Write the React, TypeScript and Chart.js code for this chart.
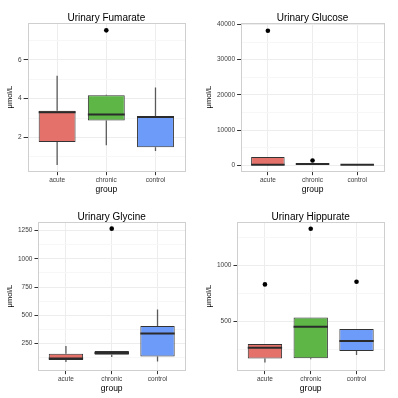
import React, { useEffect, useRef } from "react";
import { Chart, registerables } from "chart.js";

Chart.register(...registerables);

const groups = ["acute", "chronic", "control"];
const groupColors = ["#E5716B", "#5DB646", "#6D9BFA"];
const yAxisLabel = "μmol/L";
const xAxisLabel = "group";

// Urinary Fumarate
const fumarateLow = [0.58, 1.6, 1.3];
const fumarateQ1 = [1.76, 2.87, 1.49];
const fumarateMedian = [3.3, 3.18, 3.06];
const fumarateQ3 = [3.38, 4.17, 3.1];
const fumarateHigh = [5.18, 4.2, 4.58];
const fumarateOutliers = [[], [7.52], []];
const fumarateRange = [0.26, 7.9];
const fumarateMajor = [2, 4, 6];
const fumarateMinor = [1, 3, 5, 7];

// Urinary Glucose
const glucoseLow = [0, 100, 0];
const glucoseQ1 = [50, 200, 50];
const glucoseMedian = [150, 350, 120];
const glucoseQ3 = [2350, 450, 180];
const glucoseHigh = [2350, 450, 200];
const glucoseOutliers = [[38200], [1330], []];
const glucoseRange = [-1700, 40400];
const glucoseMajor = [0, 10000, 20000, 30000, 40000];
const glucoseMinor = [5000, 15000, 25000, 35000];

// Urinary Glycine
const glycineLow = [85, 130, 90];
const glycineQ1 = [102, 148, 134];
const glycineMedian = [115, 165, 337];
const glycineQ3 = [159, 182, 405];
const glycineHigh = [226, 182, 550];
const glycineOutliers = [[], [1268], []];
const glycineRange = [12, 1327];
const glycineMajor = [250, 500, 750, 1000, 1250];
const glycineMinor = [125, 375, 625, 875, 1125];

// Urinary Hippurate
const hippurateLow = [128, 158, 197];
const hippurateQ1 = [164, 167, 233];
const hippurateMedian = [262, 450, 322];
const hippurateQ3 = [295, 533, 429];
const hippurateHigh = [295, 533, 429];
const hippurateOutliers = [[830], [1330], [854]];
const hippurateRange = [60, 1390];
const hippurateMajor = [500, 1000];
const hippurateMinor = [250, 750, 1250];

const FONT = "'Liberation Sans', Arial, Helvetica, sans-serif";

const boxExtras = {
  id: "boxExtras",
  beforeDatasetsDraw(chart: any, _args: any, opts: any) {
    const { ctx, chartArea } = chart;
    ctx.save();
    ctx.beginPath();
    ctx.rect(chartArea.left, chartArea.top, chartArea.right - chartArea.left, chartArea.bottom - chartArea.top);
    ctx.clip();
    const meta = chart.getDatasetMeta(0);
    const y = chart.scales.y;
    ctx.strokeStyle = "#5a5a5a";
    ctx.lineWidth = 1.3;
    meta.data.forEach((bar: any, i: number) => {
      ctx.beginPath();
      ctx.moveTo(bar.x, y.getPixelForValue(opts.low[i]));
      ctx.lineTo(bar.x, y.getPixelForValue(opts.q1[i]));
      ctx.moveTo(bar.x, y.getPixelForValue(opts.q3[i]));
      ctx.lineTo(bar.x, y.getPixelForValue(opts.high[i]));
      ctx.stroke();
    });
    ctx.restore();
  },
  afterDatasetsDraw(chart: any, _args: any, opts: any) {
    const { ctx, chartArea } = chart;
    const meta = chart.getDatasetMeta(0);
    const y = chart.scales.y;
    ctx.save();
    ctx.strokeStyle = "#2b2b2b";
    ctx.lineWidth = 2;
    meta.data.forEach((bar: any, i: number) => {
      const py = y.getPixelForValue(opts.median[i]);
      ctx.beginPath();
      ctx.moveTo(bar.x - bar.width / 2, py);
      ctx.lineTo(bar.x + bar.width / 2, py);
      ctx.stroke();
    });
    ctx.strokeStyle = "#cfcfcf";
    ctx.lineWidth = 1;
    ctx.strokeRect(
      Math.round(chartArea.left) + 0.5,
      Math.round(chartArea.top) + 0.5,
      Math.round(chartArea.right - chartArea.left),
      Math.round(chartArea.bottom - chartArea.top)
    );
    ctx.fillStyle = "#000000";
    ctx.font = `10px ${FONT}`;
    ctx.textAlign = "center";
    ctx.textBaseline = "middle";
    ctx.fillText(opts.title, (chartArea.left + chartArea.right) / 2, chartArea.top - 5);
    ctx.restore();
  },
};

type PanelProps = {
  title: string;
  low: number[];
  q1: number[];
  median: number[];
  q3: number[];
  high: number[];
  outliers: number[][];
  range: number[];
  major: number[];
  minor: number[];
};

function BoxPanel(p: PanelProps) {
  const ref = useRef<HTMLCanvasElement | null>(null);
  useEffect(() => {
    if (!ref.current) return;
    const outlierPoints: { x: number; y: number }[] = [];
    p.outliers.forEach((list, i) => list.forEach((v) => outlierPoints.push({ x: i + 1, y: v })));
    const yTicks = [...p.major, ...p.minor].sort((a, b) => a - b);
    const chart = new Chart(ref.current, {
      type: "bar",
      data: {
        datasets: [
          {
            type: "bar",
            data: groups.map((_, i) => ({ x: i + 1, y: [p.q1[i], p.q3[i]] })) as any,
            backgroundColor: groupColors,
            borderColor: "#333333",
            borderWidth: 1,
            borderSkipped: false,
            barPercentage: 0.75,
            categoryPercentage: 1,
          } as any,
          {
            type: "scatter",
            data: outlierPoints,
            backgroundColor: "#000000",
            borderWidth: 0,
            pointRadius: 2.3,
          } as any,
        ],
      },
      options: {
        responsive: false,
        animation: false,
        layout: { padding: { left: 5, right: 14, bottom: 5.5, top: 23 } },
        plugins: {
          legend: { display: false },
          tooltip: { enabled: false },
          title: { display: false },
          boxExtras: { title: p.title, low: p.low, q1: p.q1, median: p.median, q3: p.q3, high: p.high },
        } as any,
        scales: {
          x: {
            type: "linear",
            offset: false,
            min: 0.4,
            max: 3.6,
            afterBuildTicks: (scale: any) => {
              scale.ticks = groups.map((_, i) => ({ value: i + 1 }));
            },
            ticks: {
              callback: (v: any) => groups[Number(v) - 1] ?? "",
              color: "#3c3c3c",
              font: { family: FONT, size: 6.5 },
              padding: 1,
              maxRotation: 0,
            },
            grid: { offset: false, color: "#ededed", tickColor: "#333333", tickLength: 4 },
            border: { display: false },
            title: {
              display: true,
              text: xAxisLabel,
              color: "#000000",
              font: { family: FONT, size: 8.5, lineHeight: 1 },
              padding: { top: 0, bottom: 0 },
            },
          },
          y: {
            type: "linear",
            min: p.range[0],
            max: p.range[1],
            afterBuildTicks: (scale: any) => {
              scale.ticks = yTicks.map((v) => ({ value: v }));
            },
            ticks: {
              autoSkip: false,
              callback: (v: any) => (p.major.includes(Number(v)) ? String(v) : ""),
              color: "#3c3c3c",
              font: { family: FONT, size: 6.5 },
              padding: 2,
            },
            grid: {
              color: (c: any) => (p.major.includes(c.tick?.value) ? "#ededed" : "#f7f7f7"),
              tickColor: (c: any) => (p.major.includes(c.tick?.value) ? "#333333" : "rgba(0,0,0,0)"),
              tickLength: 4,
            },
            border: { display: false },
            title: {
              display: true,
              text: yAxisLabel,
              color: "#000000",
              font: { family: FONT, size: 7.5 },
              padding: { top: 0, bottom: 2 },
            },
          },
        },
      },
      plugins: [boxExtras as any],
    });
    return () => chart.destroy();
  }, []);
  return <canvas ref={ref} width={199} height={199} style={{ width: 199, height: 199, display: "block" }} />;
}

export default function App() {
  return (
    <div style={{ position: "fixed", left: 0, top: 0, width: 398, height: 398, background: "#ffffff", display: "grid", gridTemplateColumns: "199px 199px", gridTemplateRows: "199px 199px" }}>
      <BoxPanel title="Urinary Fumarate" low={fumarateLow} q1={fumarateQ1} median={fumarateMedian} q3={fumarateQ3} high={fumarateHigh} outliers={fumarateOutliers} range={fumarateRange} major={fumarateMajor} minor={fumarateMinor} />
      <BoxPanel title="Urinary Glucose" low={glucoseLow} q1={glucoseQ1} median={glucoseMedian} q3={glucoseQ3} high={glucoseHigh} outliers={glucoseOutliers} range={glucoseRange} major={glucoseMajor} minor={glucoseMinor} />
      <BoxPanel title="Urinary Glycine" low={glycineLow} q1={glycineQ1} median={glycineMedian} q3={glycineQ3} high={glycineHigh} outliers={glycineOutliers} range={glycineRange} major={glycineMajor} minor={glycineMinor} />
      <BoxPanel title="Urinary Hippurate" low={hippurateLow} q1={hippurateQ1} median={hippurateMedian} q3={hippurateQ3} high={hippurateHigh} outliers={hippurateOutliers} range={hippurateRange} major={hippurateMajor} minor={hippurateMinor} />
    </div>
  );
}
